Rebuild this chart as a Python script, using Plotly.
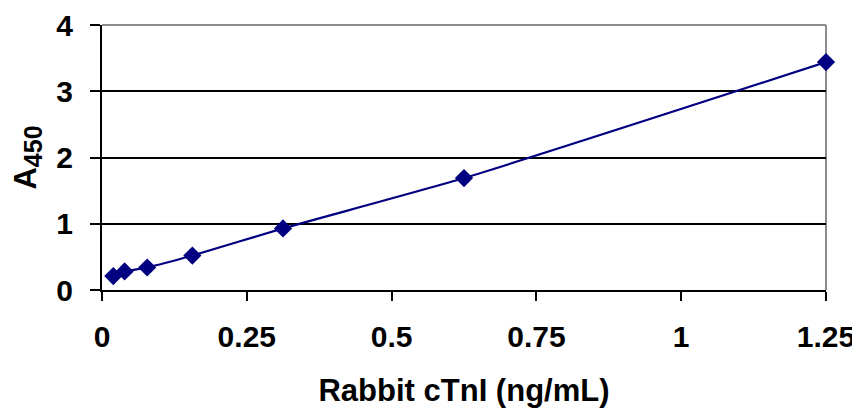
import plotly.graph_objects as go

conc = [0.0195, 0.039, 0.078, 0.156, 0.3125, 0.625, 1.25]
a450 = [0.21, 0.28, 0.34, 0.52, 0.93, 1.69, 3.44]
x_ticks = [0, 0.25, 0.5, 0.75, 1, 1.25]
x_tick_labels = ["0", "0.25", "0.5", "0.75", "1", "1.25"]
y_ticks = [0, 1, 2, 3, 4]

navy = "#000080"
fam = "Liberation Sans, Arial, sans-serif"
tick_font = dict(family=fam, size=30, color="black", weight="bold")

fig = go.Figure()
fig.add_trace(go.Scatter(
    x=conc, y=a450, mode="lines+markers",
    line=dict(color=navy, width=2.2, shape="spline", smoothing=0.6),
    marker=dict(symbol="diamond", size=14, color=navy),
    cliponaxis=False, showlegend=False,
))

fig.update_layout(
    width=852, height=401,
    margin=dict(l=94, r=34, t=17, b=119),
    paper_bgcolor="white", plot_bgcolor="white",
    font=dict(family=fam, size=29, color="black"),
    xaxis=dict(
        range=[0, 1.25], tickvals=x_ticks, ticktext=x_tick_labels,
        automargin=False,
        showgrid=False, zeroline=False,
        showline=True, linecolor="black", linewidth=2,
        ticks="outside", ticklen=9, tickwidth=2, tickcolor="black",
        ticklabelstandoff=10,
        tickfont=tick_font,
        title=dict(text="Rabbit cTnI (ng/mL)", standoff=27,
                   font=dict(family=fam, size=31, color="black", weight="bold")),
    ),
    yaxis=dict(
        range=[0, 4], tickvals=y_ticks,
        automargin=False,
        showgrid=True, gridcolor="black", gridwidth=1.5,
        zeroline=False,
        showline=True, linecolor="black", linewidth=2,
        ticks="outside", ticklen=10, tickwidth=2, tickcolor="black",
        ticklabelstandoff=11,
        tickfont=tick_font,
        title=dict(text="A<sub><span style='font-size:25px'>450</span></sub>", standoff=15,
                   font=dict(family=fam, size=31, color="black", weight="bold")),
    ),
    shapes=[
        dict(type="line", xref="paper", yref="paper", x0=0, x1=1, y0=1, y1=1,
             line=dict(color="#8c8c8c", width=2), layer="above"),
        dict(type="line", xref="paper", yref="paper", x0=1, x1=1, y0=0, y1=1,
             line=dict(color="#8c8c8c", width=2), layer="below"),
    ],
)

fig.write_html("out.html")
